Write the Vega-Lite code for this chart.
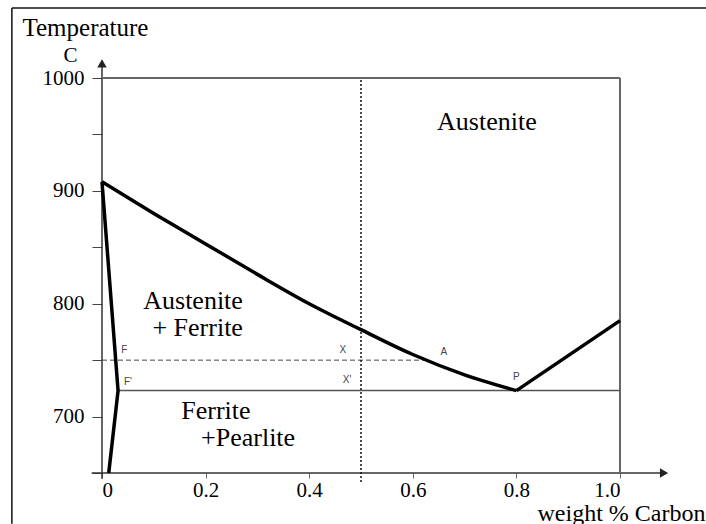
{
  "$schema": "https://vega.github.io/schema/vega-lite/v6.json",
  "width": 518,
  "height": 395,
  "autosize": {"type": "none"},
  "padding": {"left": 102, "top": 78, "right": 86, "bottom": 51},
  "background": "white",
  "config": {
    "view": {"stroke": null},
    "font": "Liberation Serif",
    "axis": {"grid": false, "domain": false}
  },
  "datasets": {
    "segments": [
      {"kind": "axis", "c": -0.02, "c2": 1.08, "t": 650, "t2": 650},
      {"kind": "axis", "c": 0, "c2": 0, "t": 645, "t2": 1012},
      {"kind": "box", "c": 0, "c2": 1.0, "t": 1000, "t2": 1000},
      {"kind": "box", "c": 1.0, "c2": 1.0, "t": 650, "t2": 1000},
      {"kind": "border", "c": -0.174, "c2": -0.174, "t": 605, "t2": 1062},
      {"kind": "border", "c": -0.174, "c2": 1.17, "t": 1062, "t2": 1062},
      {"kind": "dashed", "c": 0, "c2": 0.624, "t": 750, "t2": 750},
      {"kind": "eutectoid", "c": 0.031, "c2": 1.0, "t": 723, "t2": 723},
      {"kind": "dotted", "c": 0.5, "c2": 0.5, "t": 642, "t2": 1000}
    ],
    "curves": [
      {"line": "A3", "i": 0, "c": 0.0, "t": 908},
      {"line": "A3", "i": 1, "c": 0.1, "t": 880},
      {"line": "A3", "i": 2, "c": 0.2, "t": 853},
      {"line": "A3", "i": 3, "c": 0.3, "t": 826},
      {"line": "A3", "i": 4, "c": 0.4, "t": 800},
      {"line": "A3", "i": 5, "c": 0.5, "t": 777},
      {"line": "A3", "i": 6, "c": 0.6, "t": 755},
      {"line": "A3", "i": 7, "c": 0.7, "t": 737},
      {"line": "A3", "i": 8, "c": 0.8, "t": 723},
      {"line": "Acm", "i": 0, "c": 0.8, "t": 723},
      {"line": "Acm", "i": 1, "c": 1.0, "t": 785},
      {"line": "ferrite", "i": 0, "c": 0.0, "t": 908},
      {"line": "ferrite", "i": 1, "c": 0.031, "t": 723},
      {"line": "ferrite", "i": 2, "c": 0.013, "t": 650}
    ],
    "arrows": [
      {"dir": "x", "c": 1.085, "t": 650},
      {"dir": "y", "c": 0, "t": 1013}
    ],
    "regions": [
      {"text": "Austenite", "c": 0.743, "t": 954, "side": "center"},
      {"text": "Austenite", "c": 0.272, "t": 795, "side": "right"},
      {"text": "+ Ferrite", "c": 0.272, "t": 771, "side": "right"},
      {"text": "Ferrite", "c": 0.22, "t": 698, "side": "center"},
      {"text": "+Pearlite", "c": 0.282, "t": 674, "side": "center"}
    ],
    "points": [
      {"text": "F", "c": 0.043, "t": 759},
      {"text": "F'", "c": 0.05, "t": 731},
      {"text": "X", "c": 0.465, "t": 759},
      {"text": "X'", "c": 0.473, "t": 732},
      {"text": "A", "c": 0.66, "t": 757},
      {"text": "P", "c": 0.8, "t": 735}
    ],
    "unit": [
      {"text": "C", "c": -0.061, "t": 1014}
    ]
  },
  "layer": [
    {
      "data": {"name": "segments"},
      "transform": [{"filter": "datum.kind == 'axis'"}],
      "mark": {"type": "rule", "stroke": "#333", "strokeWidth": 1.5},
      "encoding": {
        "x": {
          "field": "c", "type": "quantitative",
          "scale": {"domain": [0, 1], "nice": false, "zero": false},
          "axis": {
            "values": [0, 0.2, 0.4, 0.6, 0.8, 1.0],
            "labelExpr": "datum.value == 0 ? '0' : format(datum.value, '.1f')",
            "labelFontSize": 21, "labelColor": "#000", "labelPadding": 1,
            "tickSize": 5, "tickColor": "#666",
            "title": "weight % Carbon", "titleFontSize": 24, "titleFontWeight": "normal",
            "titleColor": "#000", "titleAlign": "right", "titleBaseline": "alphabetic",
            "titleX": 603, "titleY": 47
          }
        },
        "x2": {"field": "c2"},
        "y": {
          "field": "t", "type": "quantitative",
          "scale": {"domain": [650, 1000], "nice": false, "zero": false},
          "axis": {
            "values": [650, 700, 750, 800, 850, 900, 950, 1000],
            "labelExpr": "datum.value % 100 == 0 ? format(datum.value, 'd') : ''",
            "labelFontSize": 21, "labelColor": "#000", "labelPadding": 8,
            "tickSize": 10, "tickColor": "#444",
            "title": "Temperature", "titleFontSize": 25, "titleFontWeight": "normal",
            "titleColor": "#000", "titleAngle": 0, "titleAlign": "left", "titleBaseline": "alphabetic",
            "titleX": -80, "titleY": -43
          }
        },
        "y2": {"field": "t2"}
      }
    },
    {
      "data": {"name": "segments"},
      "transform": [{"filter": "datum.kind == 'box'"}],
      "mark": {"type": "rule", "stroke": "#666", "strokeWidth": 2},
      "encoding": {"x": {"field": "c", "type": "quantitative"}, "x2": {"field": "c2"}, "y": {"field": "t", "type": "quantitative"}, "y2": {"field": "t2"}}
    },
    {
      "data": {"name": "segments"},
      "transform": [{"filter": "datum.kind == 'border'"}],
      "mark": {"type": "rule", "stroke": "#111", "strokeWidth": 1.5},
      "encoding": {"x": {"field": "c", "type": "quantitative"}, "x2": {"field": "c2"}, "y": {"field": "t", "type": "quantitative"}, "y2": {"field": "t2"}}
    },
    {
      "data": {"name": "segments"},
      "transform": [{"filter": "datum.kind == 'dashed'"}],
      "mark": {"type": "rule", "stroke": "#444", "strokeWidth": 1, "strokeDash": [5, 3]},
      "encoding": {"x": {"field": "c", "type": "quantitative"}, "x2": {"field": "c2"}, "y": {"field": "t", "type": "quantitative"}, "y2": {"field": "t2"}}
    },
    {
      "data": {"name": "segments"},
      "transform": [{"filter": "datum.kind == 'eutectoid'"}],
      "mark": {"type": "rule", "stroke": "#555", "strokeWidth": 1.5},
      "encoding": {"x": {"field": "c", "type": "quantitative"}, "x2": {"field": "c2"}, "y": {"field": "t", "type": "quantitative"}, "y2": {"field": "t2"}}
    },
    {
      "data": {"name": "segments"},
      "transform": [{"filter": "datum.kind == 'dotted'"}],
      "mark": {"type": "rule", "stroke": "#111", "strokeWidth": 1.5, "strokeDash": [2, 2]},
      "encoding": {"x": {"field": "c", "type": "quantitative"}, "x2": {"field": "c2"}, "y": {"field": "t", "type": "quantitative"}, "y2": {"field": "t2"}}
    },
    {
      "data": {"name": "curves"},
      "transform": [{"filter": "datum.line == 'A3'"}],
      "mark": {"type": "line", "stroke": "#000", "strokeWidth": 3.5, "interpolate": "monotone"},
      "encoding": {"x": {"field": "c", "type": "quantitative"}, "y": {"field": "t", "type": "quantitative"}, "order": {"field": "i"}}
    },
    {
      "data": {"name": "curves"},
      "transform": [{"filter": "datum.line != 'A3'"}],
      "mark": {"type": "line", "stroke": "#000", "strokeWidth": 3.5, "strokeJoin": "miter"},
      "encoding": {"x": {"field": "c", "type": "quantitative"}, "y": {"field": "t", "type": "quantitative"}, "detail": {"field": "line"}, "order": {"field": "i"}}
    },
    {
      "data": {"name": "arrows"},
      "mark": {"type": "point", "filled": true, "color": "#222", "size": 90, "opacity": 1},
      "encoding": {
        "x": {"field": "c", "type": "quantitative"},
        "y": {"field": "t", "type": "quantitative"},
        "shape": {"field": "dir", "type": "nominal", "scale": {"domain": ["x", "y"], "range": ["triangle-right", "triangle-up"]}, "legend": null}
      }
    },
    {
      "data": {"name": "regions"},
      "transform": [{"filter": "datum.side == 'center'"}],
      "mark": {"type": "text", "font": "Liberation Serif", "fontSize": 26, "color": "#000", "align": "center", "baseline": "alphabetic"},
      "encoding": {"x": {"field": "c", "type": "quantitative"}, "y": {"field": "t", "type": "quantitative"}, "text": {"field": "text"}}
    },
    {
      "data": {"name": "regions"},
      "transform": [{"filter": "datum.side == 'right'"}],
      "mark": {"type": "text", "font": "Liberation Serif", "fontSize": 26, "color": "#000", "align": "right", "baseline": "alphabetic"},
      "encoding": {"x": {"field": "c", "type": "quantitative"}, "y": {"field": "t", "type": "quantitative"}, "text": {"field": "text"}}
    },
    {
      "data": {"name": "points"},
      "mark": {"type": "text", "font": "Liberation Sans", "fontSize": 10, "color": "#444", "align": "center", "baseline": "middle"},
      "encoding": {"x": {"field": "c", "type": "quantitative"}, "y": {"field": "t", "type": "quantitative"}, "text": {"field": "text"}}
    },
    {
      "data": {"name": "unit"},
      "mark": {"type": "text", "font": "Liberation Serif", "fontSize": 21, "color": "#000", "align": "center", "baseline": "alphabetic"},
      "encoding": {"x": {"field": "c", "type": "quantitative"}, "y": {"field": "t", "type": "quantitative"}, "text": {"field": "text"}}
    }
  ]
}
